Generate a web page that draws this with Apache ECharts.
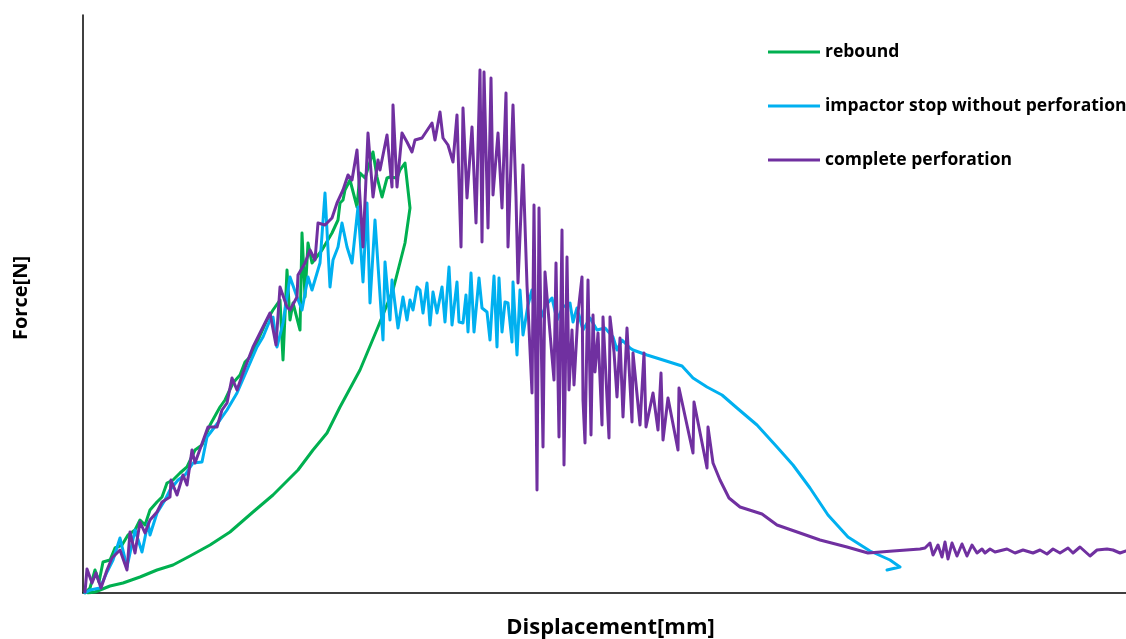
<!DOCTYPE html>
<html>
<head>
<meta charset="utf-8">
<script src="https://cdn.jsdelivr.net/npm/echarts@6/dist/echarts.min.js"></script>
<style>
  html, body { margin: 0; padding: 0; background: #fff; }
  #chart { width: 1126px; height: 639px; }
</style>
</head>
<body>
<div id="chart"></div>
<script>
// Displacement in mm, force in N

const seriesNames = ['rebound', 'impactor stop without perforation', 'complete perforation'];

// rebound: loading branch up to the peak, then the unloading branch back to zero
const reboundDisp = [
  0.02, 0.07, 0.12, 0.16, 0.20, 0.27, 0.32, 0.39, 0.45, 0.52, 0.57, 0.62, 0.67, 0.74, 0.79, 0.84,
  0.90, 0.97, 1.04, 1.12, 1.19, 1.27, 1.37, 1.42, 1.50, 1.57, 1.62, 1.67, 1.75, 1.84, 1.90, 1.97,
  2.00, 2.04, 2.07, 2.10, 2.17, 2.19, 2.22, 2.25, 2.29, 2.39, 2.49, 2.55, 2.57, 2.60, 2.62, 2.67,
  2.74, 2.77, 2.82, 2.90, 2.94, 2.99, 3.04, 3.07, 3.14, 3.17, 3.22, 3.24, 3.25, 3.27, 3.22, 3.10,
  2.95, 2.77, 2.57, 2.44, 2.30, 2.15, 2.10, 1.90, 1.70, 1.47, 1.27, 1.07, 0.90, 0.74, 0.57, 0.40,
  0.27, 0.12, 0.05
];
const reboundForce = [
  0, 50, 230, 110, 310, 330, 450, 480, 580, 630, 730, 680, 830, 910, 960, 1100,
  1130, 1200, 1260, 1430, 1480, 1680, 1860, 1930, 2100, 2180, 2310, 2360, 2530, 2730, 2830, 2930,
  2330, 3230, 2730, 2900, 2630, 3600, 2960, 3500, 3300, 3430, 3600, 3730, 3900, 3930, 4030, 4130,
  3860, 4200, 4150, 4410, 4160, 3960, 4150, 4160, 4150, 4230, 4300, 4310, 4030, 3850, 3500, 3030,
  2660, 2230, 1860, 1600, 1430, 1230, 1180, 980, 810, 610, 480, 370, 280, 230, 160, 100,
  70, 10, 0
];

// impactor stop without perforation
const stopDisp = [
  0.02, 0.07, 0.17, 0.24, 0.30, 0.37, 0.44, 0.52, 0.59, 0.65, 0.67, 0.74, 0.82, 0.87, 0.95, 1.02,
  1.10, 1.19, 1.24, 1.37, 1.44, 1.54, 1.64, 1.74, 1.80, 1.87, 1.90, 1.94, 2.00, 2.07, 2.14, 2.19,
  2.25, 2.29, 2.37, 2.42, 2.47, 2.50, 2.55, 2.59, 2.64, 2.69, 2.75, 2.80, 2.84, 2.87, 2.92, 3.00,
  3.02, 3.07, 3.09, 3.15, 3.20, 3.24, 3.27, 3.30, 3.34, 3.37, 3.40, 3.44, 3.47, 3.50, 3.54, 3.59,
  3.62, 3.66, 3.69, 3.74, 3.76, 3.80, 3.83, 3.85, 3.88, 3.91, 3.96, 3.99, 4.04, 4.07, 4.11, 4.14,
  4.16, 4.19, 4.22, 4.25, 4.29, 4.30, 4.34, 4.37, 4.40, 4.45, 4.49, 4.53, 4.57, 4.63, 4.69, 4.74,
  4.80, 4.87, 4.90, 4.94, 5.00, 5.07, 5.14, 5.22, 5.30, 5.34, 5.39, 5.47, 5.50, 5.64, 5.80, 5.99,
  6.10, 6.24, 6.39, 6.54, 6.74, 6.94, 7.10, 7.27, 7.45, 7.65, 7.87, 8.07, 8.17, 8.04
];
const stopForce = [
  0, 30, 50, 210, 330, 550, 260, 630, 410, 700, 580, 800, 930, 1030, 1130, 1180,
  1300, 1310, 1560, 1730, 1830, 2000, 2230, 2460, 2560, 2730, 2760, 2460, 2700, 3160, 2960, 2830,
  3160, 3030, 3300, 4000, 3060, 3330, 3460, 3700, 3460, 3300, 3860, 3110, 3900, 2900, 3730, 2530,
  3310, 2730, 3130, 2650, 2960, 2730, 2930, 2830, 3060, 3030, 2800, 3100, 2680, 3010, 2800, 3060,
  2710, 3260, 2680, 3110, 2710, 2700, 2980, 2610, 3200, 2610, 3150, 2850, 2810, 2530, 3170, 2460,
  3150, 2610, 2910, 2900, 2510, 3110, 2380, 3030, 2580, 2880, 3030, 2630, 2730, 2880, 2950, 2730,
  2860, 2900, 2710, 2850, 2630, 2750, 2630, 2650, 2560, 2430, 2530, 2450, 2430, 2380, 2330, 2270,
  2150, 2060, 1980, 1850, 1680, 1460, 1280, 1050, 780, 560, 420, 330, 260, 230
];

// complete perforation
const perfDisp = [
  0.02, 0.04, 0.09, 0.13, 0.18, 0.24, 0.29, 0.37, 0.44, 0.47, 0.52, 0.57, 0.62, 0.67, 0.74, 0.79,
  0.87, 0.88, 0.94, 1.00, 1.04, 1.09, 1.12, 1.25, 1.34, 1.39, 1.44, 1.49, 1.54, 1.60, 1.70, 1.77,
  1.87, 1.93, 1.97, 2.04, 2.07, 2.14, 2.15, 2.22, 2.27, 2.32, 2.35, 2.42, 2.49, 2.54, 2.60, 2.65,
  2.69, 2.74, 2.80, 2.85, 2.90, 2.95, 2.97, 3.04, 3.09, 3.10, 3.14, 3.19, 3.24, 3.29, 3.32, 3.39,
  3.49, 3.52, 3.57, 3.60, 3.65, 3.70, 3.74, 3.78, 3.80, 3.84, 3.89, 3.93, 3.97, 3.99, 4.01, 4.05,
  4.08, 4.10, 4.15, 4.19, 4.23, 4.25, 4.30, 4.33, 4.35, 4.40, 4.44, 4.49, 4.51, 4.54, 4.56, 4.60,
  4.62, 4.67, 4.71, 4.73, 4.76, 4.79, 4.81, 4.84, 4.86, 4.89, 4.91, 4.95, 4.99, 5.00, 5.02, 5.05,
  5.08, 5.10, 5.12, 5.15, 5.19, 5.20, 5.26, 5.27, 5.31, 5.34, 5.37, 5.40, 5.44, 5.49, 5.50, 5.57,
  5.61, 5.63, 5.70, 5.75, 5.78, 5.80, 5.85, 5.95, 5.96, 6.10, 6.11, 6.24, 6.25, 6.30, 6.37, 6.46,
  6.57, 6.79, 6.94, 7.17, 7.37, 7.64, 7.85, 8.10, 8.37, 8.42, 8.47, 8.50, 8.55, 8.59, 8.62, 8.65,
  8.69, 8.74, 8.79, 8.84, 8.89, 8.94, 8.99, 9.02, 9.07, 9.12, 9.24, 9.32, 9.40, 9.50, 9.57, 9.64,
  9.70, 9.77, 9.85, 9.90, 9.97, 10.07, 10.14, 10.24, 10.30, 10.37, 10.43
];
const perfForce = [
  10, 240, 100, 200, 50, 230, 350, 430, 230, 610, 400, 710, 600, 730, 810, 910,
  960, 1130, 980, 1180, 1080, 1430, 1300, 1660, 1660, 1830, 1900, 2150, 2030, 2200, 2460, 2600,
  2800, 2480, 3060, 2860, 2830, 2960, 3180, 3300, 3430, 3330, 3700, 3680, 3750, 3900, 4030, 4180,
  4130, 4430, 3460, 4600, 3960, 4330, 4230, 4580, 4060, 4880, 4060, 4600, 4510, 4410, 4530, 4550,
  4700, 4530, 4810, 4550, 4480, 4310, 4780, 3460, 4850, 3950, 4660, 3700, 5230, 3510, 5210, 3650,
  5150, 3980, 4600, 3850, 5000, 3460, 4880, 3960, 3100, 4280, 3080, 2000, 3880, 1030, 3850, 1460,
  3210, 2600, 2130, 3300, 1560, 3630, 1280, 3360, 2030, 2630, 2080, 2800, 3160, 1930, 1500, 3130,
  1580, 2780, 2210, 2600, 1680, 2760, 1550, 2760, 2410, 1960, 2550, 1760, 2650, 1710, 2400, 1680,
  2400, 1660, 2000, 1630, 2200, 1530, 1950, 1430, 2050, 1400, 1910, 1250, 1660, 1300, 1130, 950,
  860, 790, 680, 600, 530, 460, 400, 420, 440, 450, 500, 380, 480, 360, 510, 340,
  500, 370, 490, 370, 480, 400, 440, 400, 440, 410, 440, 400, 430, 400, 430, 390,
  440, 400, 450, 400, 460, 370, 430, 440, 430, 400, 420
];

const seriesColors = ['#00B050', '#00B0F0', '#7030A0'];

function pairs(xs, ys) {
  return xs.map((x, i) => [x, ys[i]]);
}

const curves = [
  pairs(reboundDisp, reboundForce),
  pairs(stopDisp, stopForce),
  pairs(perfDisp, perfForce)
];

const chart = echarts.init(document.getElementById('chart'), null, { renderer: 'canvas' });

const textFont = '"Open Sans", Lato, sans-serif';

chart.setOption({
  animation: false,
  backgroundColor: '#ffffff',
  color: seriesColors,
  grid: { left: 83, right: 0, top: 15, bottom: 46, containLabel: false, outerBoundsMode: 'none' },
  legend: {
    orient: 'vertical',
    left: 763,
    top: 38,
    icon: 'rect',
    itemWidth: 52,
    itemHeight: 3,
    itemGap: 36,
    data: seriesNames,
    textStyle: {
      fontFamily: textFont,
      fontWeight: 'bold',
      fontSize: 17.5,
      lineHeight: 18,
      color: '#000'
    }
  },
  xAxis: {
    type: 'value',
    min: 0,
    max: 10.43,
    name: 'Displacement[mm]',
    nameLocation: 'middle',
    nameGap: 24,
    nameTextStyle: {
      fontFamily: textFont,
      fontWeight: 'bold',
      fontSize: 22,
      color: '#000',
      padding: [0, 0, 0, 12]
    },
    axisLine: { show: true, lineStyle: { color: '#000', width: 1.5 } },
    axisTick: { show: false },
    axisLabel: { show: false },
    splitLine: { show: false }
  },
  yAxis: {
    type: 'value',
    min: 0,
    max: 5780,
    name: 'Force[N]',
    nameLocation: 'middle',
    nameGap: 52,
    nameTextStyle: {
      fontFamily: textFont,
      fontWeight: 'bold',
      fontSize: 20,
      color: '#000',
      padding: [0, 0, 0, 12]
    },
    axisLine: { show: true, lineStyle: { color: '#000', width: 1.5 } },
    axisTick: { show: false },
    axisLabel: { show: false },
    splitLine: { show: false }
  },
  series: seriesNames.map((name, i) => ({
    name: name,
    type: 'line',
    data: curves[i],
    showSymbol: false,
    symbol: 'none',
    smooth: false,
    lineStyle: { color: seriesColors[i], width: 3, join: 'round', cap: 'round' },
    itemStyle: { color: seriesColors[i] },
    z: 2 + i
  }))
});
</script>
</body>
</html>
